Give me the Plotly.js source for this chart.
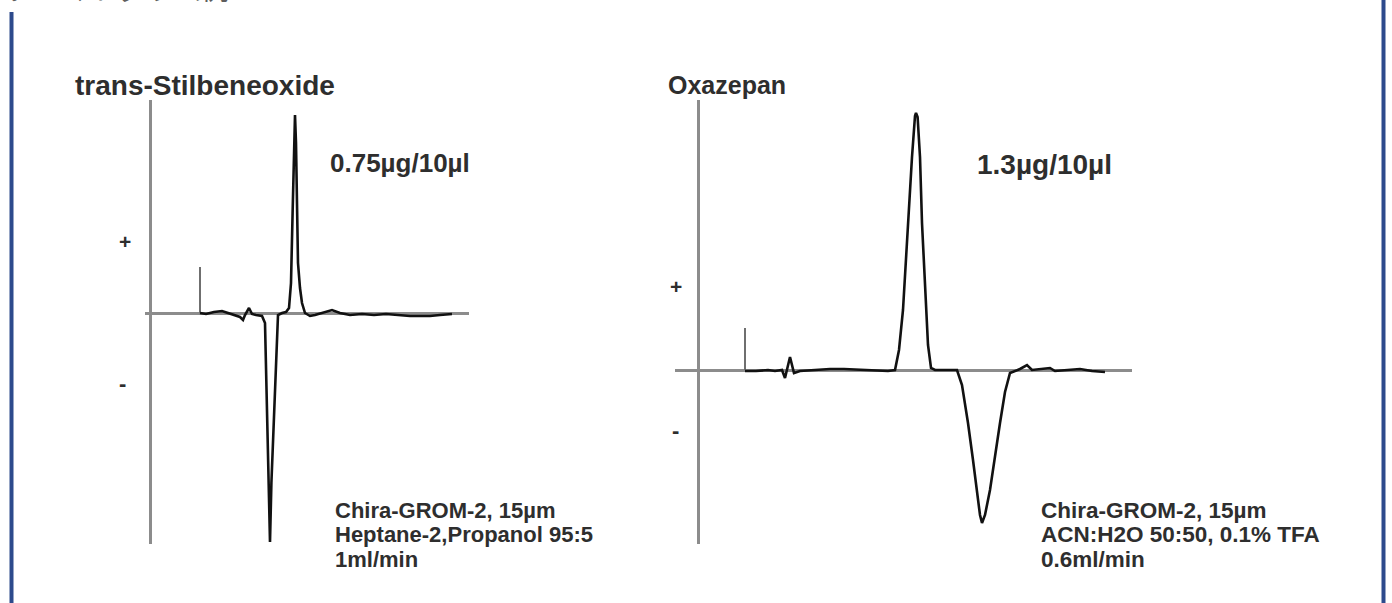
<!DOCTYPE html>
<html>
<head>
<meta charset="utf-8">
<script src="https://cdn.plot.ly/plotly-3.0.1.min.js"></script>
<style>html,body{margin:0;padding:0;background:#fff;}#chart{width:1392px;height:603px;}</style>
</head>
<body>
<div id="chart"></div>
<script>
// ---- Data (time in arbitrary min, signal in arbitrary units) ----
const leftTitle = "trans-Stilbeneoxide";
const rightTitle = "Oxazepan";
const leftAmount = "0.75µg/10µl";
const rightAmount = "1.3µg/10µl";
const leftConditions = ["Chira-GROM-2, 15µm", "Heptane-2,Propanol 95:5", "1ml/min"];
const rightConditions = ["Chira-GROM-2, 15µm", "ACN:H2O 50:50, 0.1% TFA", "0.6ml/min"];
const polarityLabels = ["+", "-"];
const headerText = "クロマトグラム例";

const leftInjection = [2.5, 4.6];   // [time, height]
const rightInjection = [2.35, 4.2];

const leftTime = [2.5, 2.8, 3.2, 3.6, 3.9, 4.2, 4.5, 4.65, 4.75, 4.95, 5.1, 5.3, 5.6, 5.75, 5.8, 5.85, 5.93, 6.0, 6.07, 6.2, 6.3, 6.35, 6.4, 6.6, 6.8, 6.95, 7.05, 7.13, 7.2, 7.25, 7.3, 7.35, 7.4, 7.5, 7.6, 7.75, 8.0, 8.25, 8.6, 9.1, 9.5, 10.0, 10.6, 11.2, 11.8, 12.4, 13.0, 13.5, 14.0, 14.5, 15.1];
const leftSignal = [0, -0.1, 0.1, 0.2, 0.0, -0.2, -0.4, -0.7, -0.2, 0.5, -0.1, -0.2, -0.3, -1.0, -5, -12, -18, -22.9, -17, -10, -4, -1, -0.2, 0.0, 0.1, 0.5, 3, 10, 17, 19.8, 17, 11, 5, 2.5, 1, 0, -0.3, -0.2, 0.0, 0.3, 0.0, -0.2, -0.1, -0.2, -0.1, -0.2, -0.3, -0.3, -0.3, -0.2, -0.1];

const rightTime = [2.35, 2.9, 3.5, 3.85, 4.2, 4.35, 4.6, 4.8, 5.1, 5.8, 6.6, 7.3, 8.1, 8.9, 9.5, 9.85, 10.05, 10.25, 10.5, 10.7, 10.85, 10.9, 10.98, 11.1, 11.2, 11.35, 11.5, 11.65, 11.85, 12.4, 12.95, 13.2, 13.5, 13.75, 13.95, 14.1, 14.2, 14.35, 14.6, 14.85, 15.1, 15.35, 15.6, 16.1, 16.45, 16.7, 17.2, 17.6, 17.85, 18.5, 19.1, 19.7, 20.35];
const rightSignal = [-0.1, -0.1, 0.0, -0.1, 0.0, -0.8, 1.3, -0.3, -0.1, 0.0, 0.1, 0.1, 0.0, -0.1, -0.1, 0.0, 2, 6, 14.7, 21.3, 25.4, 25.7, 25.3, 21.3, 14.7, 8, 2.5, 0.2, 0.0, 0.0, 0.0, -1.5, -5.3, -9, -12, -14.5, -15.3, -14.5, -12, -8.5, -5.3, -2.2, -0.3, 0.1, 0.5, 0.0, 0.1, 0.2, -0.1, 0.0, 0.1, -0.1, -0.2];

// ---- Layout helpers (pixel -> paper) ----
const W = 1392, H = 603;
const px = v => v / W;
const py = v => 1 - v / H;

const axisGray = "#8c8c8c";
const textColor = "#2e2e2e";
const font = "Liberation Sans, Arial, sans-serif";

const traceLine = {color: "#111111", width: 2.6};
const injLine = {color: "#6f6f6f", width: 2};

const data = [
  {x: [leftInjection[0], leftInjection[0]], y: [0, leftInjection[1]], mode: "lines", line: injLine, xaxis: "x", yaxis: "y", hoverinfo: "skip"},
  {x: leftTime, y: leftSignal, mode: "lines", line: traceLine, xaxis: "x", yaxis: "y"},
  {x: [rightInjection[0], rightInjection[0]], y: [0, rightInjection[1]], mode: "lines", line: injLine, xaxis: "x2", yaxis: "y2", hoverinfo: "skip"},
  {x: rightTime, y: rightSignal, mode: "lines", line: traceLine, xaxis: "x2", yaxis: "y2"}
];

const baseAxis = {showgrid: false, showticklabels: false, ticks: "", showline: false, zeroline: true, zerolinecolor: axisGray, zerolinewidth: 3, fixedrange: true};

function ann(x, y, text, size, anchor) {
  return {xref: "paper", yref: "paper", x: px(x), y: py(y), text: text, showarrow: false,
    xanchor: anchor || "left", yanchor: "middle", font: {family: font, size: size, color: textColor, weight: "bold"}};
}

const annotations = [
  ann(73, 85, "<b>" + leftTitle + "</b>", 28),
  ann(666, 85, "<b>" + rightTitle + "</b>", 25),
  ann(328, 163, "<b>" + leftAmount + "</b>", 26),
  ann(975, 165, "<b>" + rightAmount + "</b>", 28),
  ann(125, 241, "<b>" + polarityLabels[0] + "</b>", 21, "center"),
  ann(122, 383, "<b>" + polarityLabels[1] + "</b>", 22, "center"),
  ann(676, 287, "<b>" + polarityLabels[0] + "</b>", 21, "center"),
  ann(675, 430, "<b>" + polarityLabels[1] + "</b>", 22, "center"),
  {xref: "paper", yref: "paper", x: px(4), y: py(-12), text: headerText, showarrow: false, xanchor: "left", yanchor: "middle",
    font: {family: "Noto Sans CJK JP", size: 28, color: "#5e5e5e"}}
];
leftConditions.forEach((t, i) => annotations.push(ann(333, 510 + i * 24.5, "<b>" + t + "</b>", 22)));
rightConditions.forEach((t, i) => annotations.push(ann(1039, 510 + i * 24.5, "<b>" + t + "</b>", 22.5)));

const layout = {
  width: W, height: H,
  margin: {l: 0, r: 0, t: 0, b: 0},
  paper_bgcolor: "#ffffff", plot_bgcolor: "rgba(0,0,0,0)",
  showlegend: false,
  xaxis: Object.assign({}, baseAxis, {domain: [px(145), px(469)], range: [-0.25, 15.95], anchor: "y"}),
  yaxis: Object.assign({}, baseAxis, {domain: [py(544), py(100)], range: [-23.1, 21.3], anchor: "x"}),
  xaxis2: Object.assign({}, baseAxis, {domain: [px(675), px(1132)], range: [-1.15, 21.7], anchor: "y2"}),
  yaxis2: Object.assign({}, baseAxis, {domain: [py(544), py(100)], range: [-17.4, 27], anchor: "x2"}),
  annotations: annotations,
  shapes: [
    {type: "line", xref: "paper", yref: "paper", x0: px(11.5), x1: px(11.5), y0: py(12), y1: py(603), line: {color: "#2d4a8c", width: 4}},
    {type: "line", xref: "paper", yref: "paper", x0: px(1383.5), x1: px(1383.5), y0: py(0), y1: py(603), line: {color: "#2d4a8c", width: 4}}
  ]
};

Plotly.newPlot("chart", data, layout, {displayModeBar: false, staticPlot: true});
</script>
</body>
</html>
